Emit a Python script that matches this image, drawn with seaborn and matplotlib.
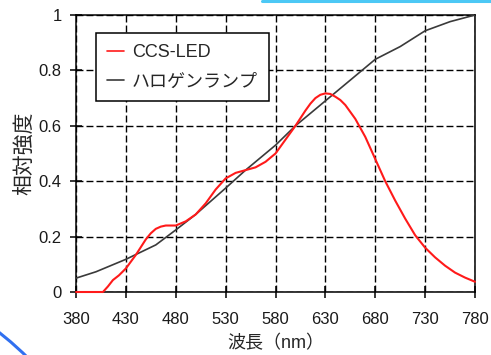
import numpy as np
import pandas as pd
import matplotlib.pyplot as plt
import matplotlib.patches as mpatches
from matplotlib.lines import Line2D
import seaborn as sns

# wavelength grid (nm) and relative intensities
led_wl = [380, 400, 407, 412, 417, 423, 430, 440, 450, 455, 460, 465, 470, 480, 490, 500,
          510, 520, 530, 540, 550, 560, 570, 580, 590, 600, 610, 615, 620, 625, 630, 635,
          640, 645, 650, 660, 670, 680, 690, 700, 710, 720, 730, 740, 750, 760, 770, 780]
led_val = [0, 0, 0, 0.02, 0.043, 0.06, 0.085, 0.134, 0.19, 0.212, 0.228, 0.236, 0.24, 0.24,
           0.255, 0.28, 0.32, 0.37, 0.41, 0.43, 0.44, 0.45, 0.47, 0.50, 0.55, 0.60, 0.655,
           0.68, 0.70, 0.712, 0.717, 0.715, 0.705, 0.693, 0.675, 0.625, 0.56, 0.48, 0.40,
           0.33, 0.265, 0.205, 0.16, 0.125, 0.095, 0.07, 0.052, 0.037]

halo_wl = [380, 400, 430, 460, 480, 500, 530, 550, 580, 600, 630, 650, 680, 705,
           730, 755, 780]
halo_val = [0.05, 0.073, 0.118, 0.17, 0.224, 0.28, 0.375, 0.44, 0.53, 0.60, 0.69, 0.75,
            0.84, 0.886, 0.943, 0.976, 1.0]

x_ticks = [380, 430, 480, 530, 580, 630, 680, 730, 780]
y_ticks = [0, 0.2, 0.4, 0.6, 0.8, 1.0]
y_ticklabels = ['0', '0.2', '0.4', '0.6', '0.8', '1']

led_df = pd.DataFrame({'wl': led_wl, 'val': led_val})
halo_df = pd.DataFrame({'wl': halo_wl, 'val': halo_val})

sns.set_theme(style='white')
plt.rcParams['font.family'] = ['Liberation Sans', 'Noto Sans CJK JP', 'DejaVu Sans']

fig = plt.figure(figsize=(4.91, 3.55), dpi=100)
ax = fig.add_axes([76 / 491, 1 - 292 / 355, 399 / 491, 277 / 355])

sns.lineplot(data=halo_df, x='wl', y='val', ax=ax, color='#3a3a3a', lw=1.2,
             label='ハロゲンランプ', zorder=3)
sns.lineplot(data=led_df, x='wl', y='val', ax=ax, color='#ff1a1a', lw=1.5,
             label='CCS-LED', zorder=4, clip_on=False)

ax.set_xlim(380, 780)
ax.set_ylim(0, 1)
ax.set_xticks(x_ticks)
ax.set_yticks(y_ticks)
ax.set_yticklabels(y_ticklabels)
ax.grid(True, color='black', lw=1.0, linestyle=(0, (5, 2.2)))
ax.tick_params(direction='inout', length=8.5, width=1.1, color='black',
               labelsize=12, labelcolor='#1a1a1a', bottom=True, left=True)
ax.tick_params(axis='x', pad=10)
ax.tick_params(axis='y', pad=6)
for s in ax.spines.values():
    s.set_color('black')
    s.set_linewidth(1.1)

ax.set_xlabel('波長（nm）', fontsize=13, labelpad=6)
ax.set_ylabel('相対強度', fontsize=15, labelpad=3)

handles, labels = ax.get_legend_handles_labels()
leg = ax.legend(handles[::-1], labels[::-1], loc='upper left',
                bbox_to_anchor=(20 / 399, 1 - 18 / 277), fontsize=13,
                frameon=True, fancybox=False, shadow=False, framealpha=1,
                edgecolor='black', handlelength=0.95, handletextpad=0.45,
                borderpad=0.6, labelspacing=0.7, borderaxespad=0)
leg.get_frame().set_linewidth(1.1)
for h in leg.get_lines():
    h.set_linewidth(1.2)

# screenshot decorations: cyan rule at top, blue arc at bottom-left
fig.add_artist(Line2D([262 / 491, 1], [1 - 1 / 355, 1 - 1 / 355],
                      transform=fig.transFigure, color='#4cc8f5', lw=2.2))
arc = mpatches.Circle((-202, 355 - 589), 326, transform=None, fill=False,
                      edgecolor='#3070f0', lw=2.2)
fig.add_artist(arc)

fig.savefig('out.png', dpi=100, facecolor='white')
